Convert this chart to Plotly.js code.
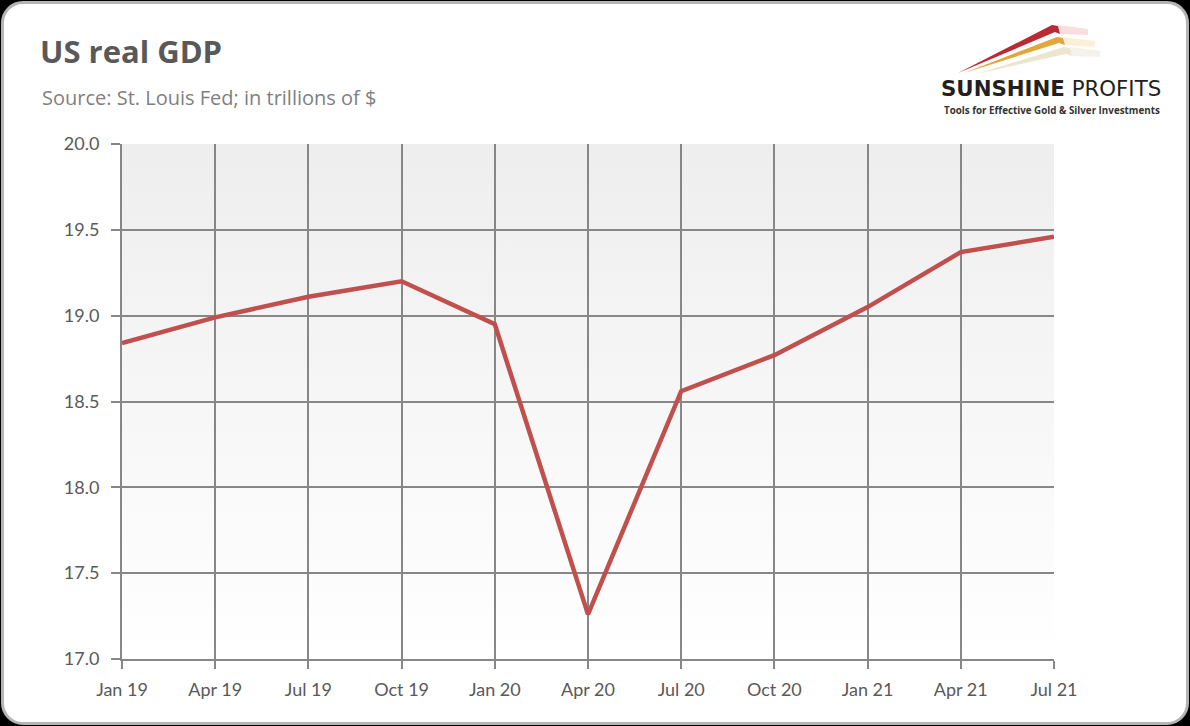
<!DOCTYPE html>
<html>
<head>
<meta charset="utf-8">
<script src="https://cdn.plot.ly/plotly-3.0.1.min.js"></script>
<style>
  html, body { margin: 0; padding: 0; background: #000; }
  #wrap { position: relative; width: 1190px; height: 726px; overflow: hidden; background: #000; }
  #card { position: absolute; left: 1px; top: 1px; width: 1182px; height: 718px;
          border: 3px solid #b4b4b4; border-radius: 22px; background: #fff; }
  #chart { position: absolute; left: 0; top: 0; width: 1190px; height: 726px; }
</style>
</head>
<body>
<div id="wrap">
  <div id="card"></div>
  <div id="chart"></div>
</div>
<script>
// ---- data ----
const categories = ["Jan 19","Apr 19","Jul 19","Oct 19","Jan 20","Apr 20","Jul 20","Oct 20","Jan 21","Apr 21","Jul 21"];
const gdpTrillions = [18.84, 18.99, 19.11, 19.20, 18.95, 17.26, 18.56, 18.77, 19.05, 19.37, 19.46];
const yTickValues = [17.0, 17.5, 18.0, 18.5, 19.0, 19.5, 20.0];
const titleText = "US real GDP";
const subtitleText = "Source: St. Louis Fed; in trillions of $";

// ---- layout helpers (pixel -> paper) ----
const W = 1190, H = 726;
const M = {l: 122, r: 136, t: 144, b: 67};
const PW = W - M.l - M.r, PH = H - M.t - M.b;
const X = px => (px - M.l) / PW;
const Y = py => (H - M.b - py) / PH;
function path(pts) {
  return 'M ' + pts.map(p => X(p[0]).toFixed(5) + ',' + Y(p[1]).toFixed(5)).join(' L ') + ' Z';
}

const FONT = 'Lato, "Open Sans", sans-serif';
const HEAD = '"Open Sans", Lato, sans-serif';
const gridCol = '#878787';

const gradSvg = '<svg xmlns="http://www.w3.org/2000/svg" width="10" height="100" preserveAspectRatio="none">' +
  '<defs><linearGradient id="g" x1="0" y1="0" x2="0" y2="1">' +
  '<stop offset="0" stop-color="#eeeeee"/><stop offset="1" stop-color="#ffffff"/></linearGradient></defs>' +
  '<rect width="10" height="100" fill="url(#g)"/></svg>';
const gradUri = 'data:image/svg+xml;base64,' + btoa(gradSvg);

const trace = {
  x: categories,
  y: gdpTrillions,
  type: 'scatter',
  mode: 'lines',
  line: {color: '#c0504d', width: 4.5},
  hoverinfo: 'x+y'
};

const shapes = [
  // logo streaks
  {type: 'path', xref: 'paper', yref: 'paper', layer: 'above', line: {width: 0},
   fillcolor: 'rgba(235,160,160,0.35)', path: path([[1058,25],[1088,29],[1088,35],[1060,34]])},
  {type: 'path', xref: 'paper', yref: 'paper', layer: 'above', line: {width: 0},
   fillcolor: 'rgba(245,205,140,0.35)', path: path([[1063,37],[1095,41],[1095,47],[1065,45]])},
  {type: 'path', xref: 'paper', yref: 'paper', layer: 'above', line: {width: 0},
   fillcolor: 'rgba(235,230,215,0.5)', path: path([[1070,47],[1100,51],[1100,57],[1072,56]])},
  {type: 'path', xref: 'paper', yref: 'paper', layer: 'above', line: {width: 0},
   fillcolor: '#b92a34', path: path([[958,73],[1052,25],[1058,26],[1060,34],[1055,32]])},
  {type: 'path', xref: 'paper', yref: 'paper', layer: 'above', line: {width: 0},
   fillcolor: '#e2a73a', path: path([[964,73],[1057,37],[1063,38],[1065,45],[1059,43]])},
  {type: 'path', xref: 'paper', yref: 'paper', layer: 'above', line: {width: 0},
   fillcolor: '#ece5cf', path: path([[976,74],[1064,47],[1070,48],[1072,56],[1066,54]])}
];

const annotations = [
  {xref: 'paper', yref: 'paper', x: X(40), y: Y(98), xanchor: 'left', yanchor: 'middle',
   text: subtitleText, showarrow: false, font: {family: HEAD, size: 20, color: '#7f7f7f'}},
  {xref: 'paper', yref: 'paper', x: X(1051), y: Y(102), xanchor: 'center', yanchor: 'bottom',
   text: '<b>SUNSHINE</b> PROFITS', showarrow: false, borderpad: 0,
   font: {family: '"DejaVu Sans", sans-serif', size: 21.3, color: '#231f20'}},
  {xref: 'paper', yref: 'paper', x: X(1052), y: Y(103), xanchor: 'center', yanchor: 'top',
   text: '<b>Tools for Effective Gold &amp; Silver Investments</b>', showarrow: false, borderpad: 0,
   font: {family: '"Open Sans", sans-serif', size: 9.8, color: '#333333'}}
];

const layout = {
  width: W, height: H,
  margin: M,
  paper_bgcolor: 'rgba(0,0,0,0)',
  plot_bgcolor: 'rgba(0,0,0,0)',
  showlegend: false,
  title: {
    text: '<b>' + titleText + '</b>',
    xref: 'container', yref: 'container',
    x: 40 / W, y: 1 - 52 / H, xanchor: 'left', yanchor: 'middle',
    font: {family: HEAD, size: 31, color: '#595959'}
  },
  xaxis: {
    type: 'category',
    range: [0, categories.length - 1],
    showgrid: true, gridcolor: gridCol, gridwidth: 2,
    showline: true, linecolor: gridCol, linewidth: 2,
    ticks: 'outside', ticklen: 8, tickwidth: 2, tickcolor: gridCol,
    ticklabelstandoff: 5,
    tickfont: {family: FONT, size: 18, color: '#595959'},
    zeroline: false, fixedrange: true
  },
  yaxis: {
    range: [17, 20],
    tickvals: yTickValues,
    tickformat: '.1f',
    showgrid: true, gridcolor: gridCol, gridwidth: 2,
    showline: true, linecolor: gridCol, linewidth: 2,
    ticks: 'outside', ticklen: 9, tickwidth: 2, tickcolor: gridCol,
    ticklabelstandoff: 8,
    tickfont: {family: FONT, size: 18, color: '#595959'},
    zeroline: false, fixedrange: true
  },
  images: [{
    source: gradUri, xref: 'paper', yref: 'paper', x: 0, y: 1, sizex: 1, sizey: 1,
    xanchor: 'left', yanchor: 'top', sizing: 'stretch', layer: 'below'
  }],
  shapes: shapes,
  annotations: annotations
};

Plotly.newPlot('chart', [trace], layout, {displayModeBar: false, staticPlot: true});
</script>
</body>
</html>
